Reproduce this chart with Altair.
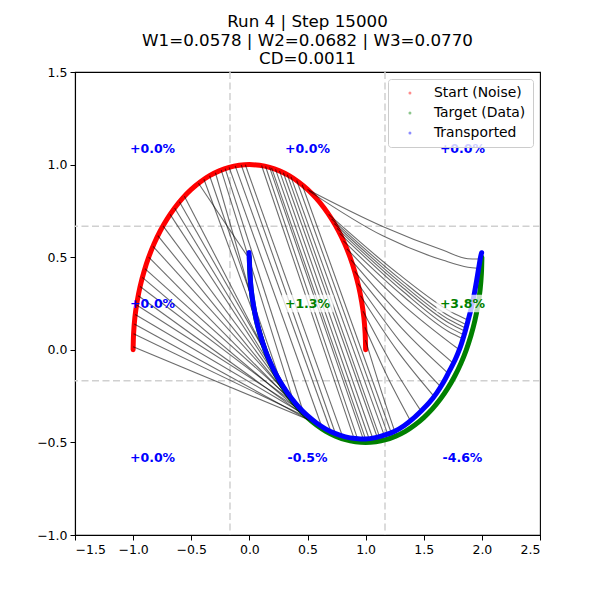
import altair as alt
import pandas as pd

# ---- run summary shown in the title ----
RUN = 4
STEP = 15000
W_DIST = [0.0578, 0.0682, 0.0770]
CD = 0.0011

# ---- point clouds (upper moon = start noise, lower moon = data, transported) ----
start_x = [1.000, 0.996, 0.985, 0.966, 0.940, 0.906, 0.866, 0.819, 0.766, 0.707, 0.643, 0.574, 0.500,
           0.423, 0.342, 0.259, 0.174, 0.087, 0.000, -0.087, -0.174, -0.259, -0.342, -0.423, -0.500,
           -0.574, -0.643, -0.707, -0.766, -0.819, -0.866, -0.906, -0.940, -0.966, -0.985, -0.996, -1.000]
start_y = [0.000, 0.087, 0.174, 0.259, 0.342, 0.423, 0.500, 0.574, 0.643, 0.707, 0.766, 0.819, 0.866,
           0.906, 0.940, 0.966, 0.985, 0.996, 1.000, 0.996, 0.985, 0.966, 0.940, 0.906, 0.866,
           0.819, 0.766, 0.707, 0.643, 0.574, 0.500, 0.423, 0.342, 0.259, 0.174, 0.087, 0.000]

target_x = [0.000, 0.004, 0.015, 0.034, 0.060, 0.094, 0.134, 0.181, 0.234, 0.293, 0.357, 0.426, 0.500,
            0.577, 0.658, 0.741, 0.826, 0.913, 1.000, 1.087, 1.174, 1.259, 1.342, 1.423, 1.500,
            1.574, 1.643, 1.707, 1.766, 1.819, 1.866, 1.906, 1.940, 1.966, 1.985, 1.996, 2.000]
target_y = [0.500, 0.413, 0.326, 0.241, 0.158, 0.077, 0.000, -0.074, -0.143, -0.207, -0.266, -0.319, -0.366,
            -0.406, -0.440, -0.466, -0.485, -0.496, -0.500, -0.496, -0.485, -0.466, -0.440, -0.406, -0.366,
            -0.319, -0.266, -0.207, -0.143, -0.074, 0.000, 0.077, 0.158, 0.241, 0.326, 0.413, 0.500]

moved_x = [-0.003, 0.004, 0.015, 0.034, 0.060, 0.094, 0.134, 0.181, 0.234, 0.293, 0.357, 0.426, 0.500,
           0.577, 0.658, 0.741, 0.826, 0.913, 1.000, 1.085, 1.168, 1.250, 1.330, 1.405, 1.478,
           1.545, 1.609, 1.667, 1.720, 1.769, 1.812, 1.850, 1.882, 1.912, 1.937, 1.958, 1.975, 1.990, 1.998]
moved_y = [0.525, 0.430, 0.330, 0.245, 0.160, 0.080, 0.003, -0.070, -0.138, -0.200, -0.258, -0.310, -0.356,
           -0.395, -0.428, -0.453, -0.470, -0.479, -0.482, -0.474, -0.460, -0.440, -0.410, -0.373, -0.330,
           -0.287, -0.235, -0.178, -0.115, -0.055, 0.010, 0.085, 0.160, 0.233, 0.310, 0.385, 0.450, 0.505, 0.524]

# ---- sampled flow trajectories (start point ... transported point) ----
trajectories = [
    # from the left end of the upper moon
    [(-1.000, 0.017), (0.531, -0.383)],
    [(-0.996, 0.087), (0.500, -0.366)],
    [(-0.990, 0.139), (0.546, -0.391)],
    [(-0.982, 0.191), (0.470, -0.348)],
    [(-0.970, 0.242), (0.426, -0.319)],
    [(-0.956, 0.292), (0.500, -0.366)],
    [(-0.940, 0.342), (0.384, -0.288)],
    [(-0.921, 0.391), (0.455, -0.339)],
    [(-0.899, 0.438), (0.357, -0.266)],
    [(-0.866, 0.500), (0.412, -0.309)],
    [(-0.829, 0.559), (0.331, -0.243)],
    [(-0.788, 0.616), (0.384, -0.288)],
    [(-0.743, 0.669), (0.293, -0.207)],
    [(-0.682, 0.731), (0.357, -0.266)],
    # upper-left shoulder
    [(-0.643, 0.766), (0.357, -0.266)],
    [(-0.602, 0.799), (0.398, -0.299)],
    [(-0.559, 0.829), (0.318, -0.231)],
    [(-0.438, 0.899), (0.000, 0.490)],
    [(-0.391, 0.921), (0.234, -0.143)],
    [(-0.342, 0.940), (0.281, -0.195)],
    [(-0.292, 0.956), (0.181, -0.074)],
    [(-0.242, 0.970), (0.384, -0.288)],
    [(-0.208, 0.978), (0.470, -0.348)],
    # top of the moon down to the bottom of the target
    [(-0.174, 0.985), (0.620, -0.410)],
    [(-0.122, 0.993), (0.700, -0.440)],
    [(-0.070, 0.998), (0.740, -0.452)],
    [(-0.035, 0.999), (0.800, -0.465)],
    [(0.105, 0.995), (0.900, -0.478)],
    [(0.139, 0.990), (0.930, -0.480)],
    [(0.174, 0.985), (0.980, -0.482)],
    [(0.191, 0.982), (1.000, -0.482)],
    [(0.225, 0.974), (1.030, -0.480)],
    [(0.259, 0.966), (1.060, -0.476)],
    [(0.292, 0.956), (1.100, -0.472)],
    [(0.326, 0.946), (1.120, -0.470)],
    [(0.358, 0.934), (1.160, -0.462)],
    [(0.407, 0.914), (1.190, -0.455)],
    [(0.454, 0.891), (1.220, -0.448)],
    # right shoulder, bending onto the right branch
    [(0.500, 0.866), (1.152, 0.665), (1.668, 0.537), (1.880, 0.492), (1.975, 0.490)],
    [(0.515, 0.857), (1.152, 0.614), (1.668, 0.483), (1.880, 0.446), (1.965, 0.440)],
    [(0.682, 0.731), (1.282, 0.410), (1.738, 0.204), (1.882, 0.160)],
    [(0.707, 0.707), (1.289, 0.386), (1.731, 0.178), (1.871, 0.134)],
    [(0.731, 0.682), (1.298, 0.364), (1.728, 0.159), (1.864, 0.116)],
    [(0.755, 0.656), (1.306, 0.343), (1.725, 0.142), (1.857, 0.100)],
    [(0.777, 0.629), (1.313, 0.320), (1.719, 0.121), (1.848, 0.080)],
    [(0.809, 0.588), (1.324, 0.289), (1.715, 0.098), (1.838, 0.060)],
    [(0.839, 0.545), (1.323, 0.243), (1.806, 0.000)],
    [(0.875, 0.485), (1.315, 0.176), (1.755, -0.073)],
    [(0.906, 0.423), (1.308, 0.118), (1.710, -0.127)],
    [(0.934, 0.358), (1.290, 0.050), (1.645, -0.199)],
    [(0.956, 0.292), (1.273, -0.006), (1.590, -0.253)],
    [(0.978, 0.208), (1.229, -0.083), (1.480, -0.334)],
    [(0.993, 0.122), (1.190, -0.148), (1.390, -0.388)],
    [(0.999, 0.052), (1.125, -0.204), (1.250, -0.440)],
]

# ---- 3x3 region diagnostics ----
x_cuts = [-0.1667, 1.1667]
y_cuts = [0.6667, -0.1667]
cell_x = [-0.833, 0.5, 1.833]
cell_y = [1.083, 0.25, -0.583]
cell_change = [[0.0, 0.0, 0.0],   # top row
               [0.0, 1.3, 3.8],   # middle row
               [0.0, -0.5, -4.6]] # bottom row

SERIES = ["Start (Noise)", "Target (Data)", "Transported"]
COLORS = ["#ff0000", "#008000", "#0000ff"]

# ---- tables ----
def cloud(name, xs, ys):
    return pd.DataFrame({"series": name, "idx": range(len(xs)), "x": xs, "y": ys})

clouds = pd.concat([cloud(SERIES[0], start_x, start_y),
                    cloud(SERIES[1], target_x, target_y),
                    cloud(SERIES[2], moved_x, moved_y)], ignore_index=True)

traj_rows = []
for k, path in enumerate(trajectories):
    for j, (px, py) in enumerate(path):
        traj_rows.append({"traj": k, "step": j, "x": px, "y": py})
traj_df = pd.DataFrame(traj_rows)

cell_rows = []
for r, yc in enumerate(cell_y):
    for c, xc in enumerate(cell_x):
        v = cell_change[r][c]
        cell_rows.append({"x": xc, "y": yc, "label": f"{v:+.1f}%",
                          "gain": "up" if v > 0 else "flat",
                          "color": "#008000" if v > 0 else "#0000ff"})
cells = pd.DataFrame(cell_rows)

FONT = "DejaVu Sans"
xs = alt.Scale(domain=[-1.5, 2.5], nice=False, zero=False)
ys = alt.Scale(domain=[-1.0, 1.5], nice=False, zero=False)
x_axis = alt.Axis(values=[-1.5, -1.0, -0.5, 0.0, 0.5, 1.0, 1.5, 2.0, 2.5], format=".1f", title=None)
y_axis = alt.Axis(values=[-1.0, -0.5, 0.0, 0.5, 1.0, 1.5], format=".1f", title=None)
X = alt.X("x:Q", scale=xs, axis=x_axis)
Y = alt.Y("y:Q", scale=ys, axis=y_axis)

vrules = alt.Chart(pd.DataFrame({"x": x_cuts})).mark_rule(
    color="#d0d0d0", strokeWidth=1.5, strokeDash=[7, 3.5]).encode(x=X)
hrules = alt.Chart(pd.DataFrame({"y": y_cuts})).mark_rule(
    color="#d0d0d0", strokeWidth=1.5, strokeDash=[7, 3.5]).encode(y=Y)

legend_pts = alt.Chart(clouds).mark_circle(size=6, opacity=0.4).encode(
    x=X, y=Y,
    color=alt.Color("series:N", scale=alt.Scale(domain=SERIES, range=COLORS),
                    legend=alt.Legend(title=None)),
)

def arc(name, color):
    return alt.Chart(clouds).transform_filter(alt.datum.series == name).mark_line(
        color=color, strokeWidth=5, strokeCap="round", strokeJoin="round",
        interpolate="catmull-rom").encode(x=X, y=Y, order="idx:Q")

paths = alt.Chart(traj_df).mark_line(
    color="black", opacity=0.58, strokeWidth=1.1, interpolate="monotone").encode(
    x=X, y=Y, detail="traj:N", order="step:Q")

boxes = alt.Chart(cells).transform_filter(alt.datum.gain == "up").mark_point(
    shape="M-1,-0.34L1,-0.34L1,0.34L-1,0.34Z", size=2704, filled=True,
    fill="white", opacity=0.75, strokeWidth=0).encode(x=X, y=Y)

labels = alt.Chart(cells).mark_text(
    font=FONT, fontSize=12.5, fontWeight="bold", align="center", baseline="middle").encode(
    x=X, y=Y, text="label:N", color=alt.Color("color:N", scale=None, legend=None))

title_lines = [f"Run {RUN} | Step {STEP}",
               " | ".join(f"W{i + 1}={w:.4f}" for i, w in enumerate(W_DIST)),
               f"CD={CD:.4f}"]

chart = alt.layer(
    vrules, hrules, legend_pts,
    arc(SERIES[0], COLORS[0]), arc(SERIES[1], COLORS[1]),
    paths,
    arc(SERIES[2], COLORS[2]),
    boxes, labels,
).properties(
    width=465, height=463,
    title=alt.TitleParams(title_lines, font=FONT, fontSize=16.7, fontWeight="normal",
                          color="black", anchor="middle", baseline="bottom",
                          lineHeight=18.5, offset=6, dy=25),
    autosize=alt.AutoSizeParams(type="none"),
    padding={"left": 75, "top": 72, "right": 60, "bottom": 65},
).configure_view(
    stroke="black", strokeWidth=1.1
).configure_axis(
    labelFont=FONT, labelFontSize=12.5, labelColor="black",
    tickColor="black", tickSize=5, tickWidth=1, domainColor="black", domainWidth=1.1,
    grid=False, labelPadding=3,
).configure_legend(
    orient="none", legendX=313, legendY=7, padding=7,
    fillColor="rgba(255,255,255,0.8)", strokeColor="#cccccc", cornerRadius=3,
    labelFont=FONT, labelFontSize=13.9, labelColor="black",
    symbolSize=9, symbolOpacity=0.45, symbolStrokeWidth=0, symbolType="circle",
    rowPadding=5, labelOffset=17, symbolOffset=8,
)

chart.save("out.html", embed_options={"renderer": "svg", "actions": False})
